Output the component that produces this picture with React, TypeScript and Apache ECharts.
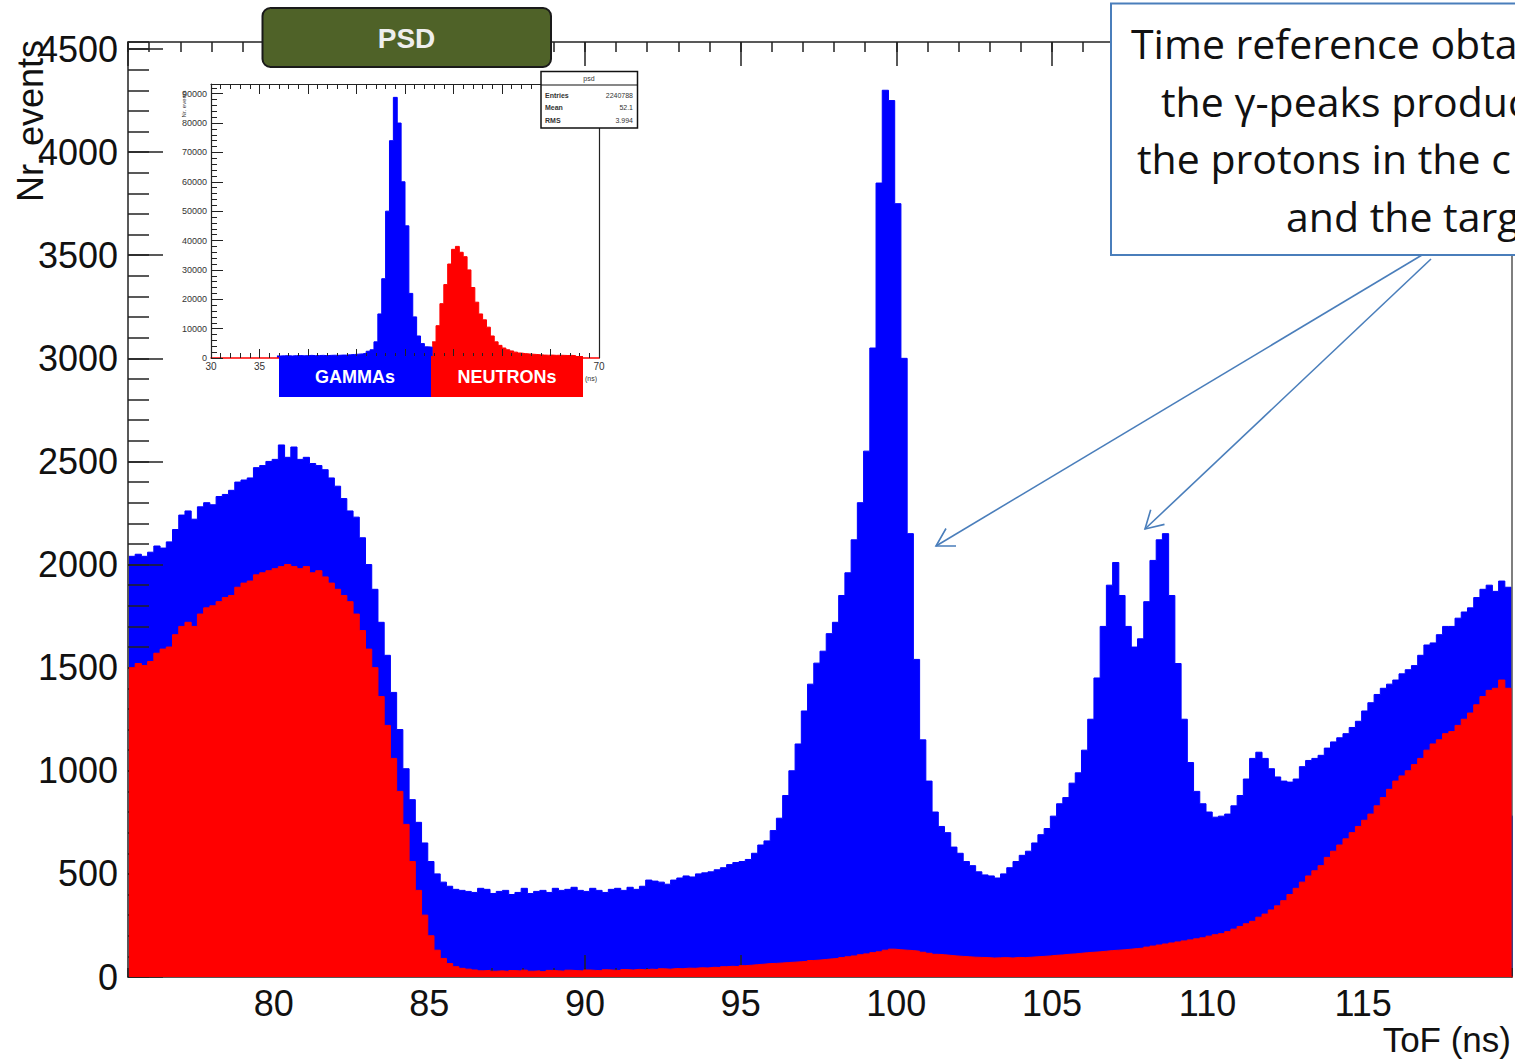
import React, { useEffect, useRef } from "react";
import * as echarts from "echarts";

// ---------- main ToF histogram (bin left edges: first + i * width) ----------
const tofFirstBin = 75.35;
const tofBinWidth = 0.2;
const tofAxisMin = 75.32;
const tofAxisMax = 119.78;
const countsAxisMax = 4534;

// all events (blue)
const totalCounts = [
  2040, 2050, 2040, 2060, 2090, 2080, 2110, 2170, 2240, 2260,
  2220, 2280, 2300, 2290, 2330, 2340, 2360, 2400, 2410, 2420,
  2470, 2480, 2500, 2510, 2580, 2520, 2570, 2510, 2520, 2490,
  2480, 2460, 2420, 2380, 2320, 2260, 2230, 2130, 2000, 1880,
  1720, 1560, 1380, 1200, 1010, 860, 750, 650, 560, 500,
  460, 440, 425, 420, 415, 410, 430, 425, 405, 415,
  420, 400, 410, 430, 405, 415, 420, 410, 430, 420,
  425, 435, 420, 415, 430, 420, 410, 425, 430, 420,
  435, 425, 440, 470, 465, 460, 450, 470, 480, 490,
  485, 500, 505, 510, 520, 530, 545, 555, 560, 570,
  600, 640, 660, 710, 770, 880, 1000, 1130, 1290, 1420,
  1522, 1580, 1665, 1720, 1850, 1960, 2120, 2300, 2550, 3050,
  3850, 4300, 4250, 3750, 3000, 2150, 1540, 1150, 950, 800,
  730, 700, 630, 600, 560, 540, 510, 495, 490, 480,
  500, 530, 560, 590, 610, 650, 690, 720, 780, 840,
  870, 940, 990, 1100, 1250, 1450, 1700, 1900, 2010, 1850,
  1700, 1600, 1640, 1820, 2020, 2120, 2150, 1850, 1520, 1250,
  1040, 900, 840, 800, 775, 780, 790, 830, 880, 960,
  1060, 1090, 1060, 1010, 970, 950, 945, 960, 1020, 1050,
  1060, 1075, 1110, 1140, 1160, 1180, 1210, 1240, 1290, 1330,
  1370, 1400, 1420, 1440, 1470, 1490, 1510, 1560, 1610, 1620,
  1660, 1700, 1700, 1740, 1770, 1790, 1840, 1880, 1900, 1870,
  1920, 1890, 780,
];

// neutrons (red)
const neutronCounts = [
  1500, 1520, 1510, 1530, 1570, 1590, 1600, 1660, 1700, 1720,
  1700, 1760, 1790, 1800, 1820, 1840, 1850, 1890, 1910, 1920,
  1950, 1960, 1970, 1980, 1990, 2000, 1990, 1980, 1990, 1960,
  1970, 1940, 1910, 1880, 1850, 1820, 1760, 1680, 1590, 1500,
  1360, 1220, 1060, 900, 740, 560, 420, 300, 200, 130,
  90, 65, 50, 42, 38, 34, 30, 32, 28, 30,
  27, 31, 29, 33, 28, 30, 26, 32, 30, 28,
  33, 31, 29, 34, 32, 30, 35, 33, 31, 36,
  34, 37, 35, 38, 36, 40, 38, 41, 40, 43,
  42, 45, 44, 47, 46, 50, 52, 50, 55, 57,
  60, 62, 65, 66, 68, 70, 72, 74, 76, 80,
  82, 85, 88, 90, 94, 98, 102, 108, 112, 118,
  122, 130, 135, 132, 130, 128, 125, 120, 115, 110,
  108, 105, 102, 100, 98, 96, 95, 94, 92, 93,
  94, 92, 95, 94, 96, 98, 100, 102, 105, 107,
  110, 112, 115, 118, 120, 122, 125, 128, 130, 132,
  135, 138, 140, 145, 150, 155, 160, 165, 170, 175,
  180, 185, 190, 198, 205, 210, 220, 232, 245, 258,
  270, 290, 305, 325, 345, 370, 400, 430, 460, 490,
  515, 540, 580, 610, 640, 670, 700, 730, 760, 790,
  830, 870, 910, 950, 975, 1000, 1030, 1060, 1100, 1130,
  1150, 1180, 1190, 1220, 1250, 1280, 1320, 1360, 1390, 1400,
  1440, 1400, 0,
];

// ---------- inset PSD histogram ----------
const psdBinWidth = 0.4;
const psdGammaFirstBin = 36.8;
const psdNeutronFirstBin = 52.8;
const psdAxisMin = 30;
const psdAxisMax = 70;
const psdCountsMax = 93300;
const psdVisibleXLabels = [30, 35, 70];
const psdGammaCounts = [
  700, 750, 800, 700, 800, 850, 750, 800, 900, 800,
  850, 900, 800, 900, 950, 900, 1000, 1000, 1100, 1200,
  1300, 1400, 1600, 2300, 2800, 5500, 15000, 27000, 50000, 74000,
  88750, 80000, 60000, 45000, 22000, 14000, 7500, 4900, 3800, 3700,
];
const psdNeutronCounts = [
  5500, 11000, 18500, 25000, 32000, 37000, 38000, 36000, 34500, 30000,
  24000, 19000, 15000, 13000, 10500, 7500, 5500, 4300, 3400, 2800,
  2400, 2000, 1700, 1500, 1400, 1300, 1200, 1100, 1000, 950,
  1000, 900, 950, 900, 850, 900, 800,
];
const psdStats = [
  ["Entries", "2240788"],
  ["Mean", "52.1"],
  ["RMS", "3.994"],
];

const calloutLines = [
  "Time reference obta",
  "the \u03b3-peaks produc",
  "the protons in the c",
  "and the targ",
];

const AXIS_FONT = "'Liberation Sans', Arial, sans-serif";
const INK = "#222";

function toSteps(first: number, width: number, counts: number[]) {
  const pts: number[][] = counts.map((c, i) => [+(first + i * width).toFixed(3), c]);
  pts.push([+(first + counts.length * width).toFixed(3), 0]);
  return pts;
}

function tickAxis(extra: any) {
  return {
    type: "value",
    z: 2,
    splitLine: { show: false },
    axisLine: { show: false, onZero: false },
    axisLabel: { show: false },
    ...extra,
  };
}

const plain = (v: number) => String(Math.round(v));

function buildOption() {
  const tickLine = { color: INK, width: 1.5 };
  const thin = { color: INK, width: 1 };
  const mainX = { gridIndex: 0, min: tofAxisMin, max: tofAxisMax };
  const mainY = { gridIndex: 0, min: 0, max: countsAxisMax };
  const insetX = { gridIndex: 1, min: psdAxisMin, max: psdAxisMax };
  const insetY = { gridIndex: 1, min: 0, max: psdCountsMax };

  const xAxis = [
    tickAxis({
      ...mainX,
      position: "bottom",
      splitNumber: 9,
      minInterval: 5,
      maxInterval: 5,
      axisLine: { show: true, onZero: false, lineStyle: { color: INK, width: 1.5 } },
      axisTick: { show: true, inside: true, length: 22, lineStyle: tickLine },
      axisLabel: {
        show: true,
        margin: 8,
        fontSize: 36,
        fontFamily: AXIS_FONT,
        color: "#111",
        showMinLabel: false,
        showMaxLabel: false,
        formatter: (v: number) =>
          Math.abs(v / 5 - Math.round(v / 5)) < 1e-6 ? plain(v) : "",
      },
    }),
    tickAxis({
      ...mainX,
      position: "bottom",
      splitNumber: 44,
      minInterval: 1,
      maxInterval: 1,
      axisTick: { show: true, inside: true, length: 9, lineStyle: tickLine },
    }),
    tickAxis({
      ...mainX,
      position: "top",
      splitNumber: 9,
      minInterval: 5,
      maxInterval: 5,
      axisLine: { show: true, onZero: false, lineStyle: { color: INK, width: 1.5 } },
      axisTick: { show: true, inside: true, length: 24, lineStyle: tickLine },
    }),
    tickAxis({
      ...mainX,
      position: "top",
      splitNumber: 44,
      minInterval: 1,
      maxInterval: 1,
      axisTick: { show: true, inside: true, length: 10, lineStyle: tickLine },
    }),
    tickAxis({
      ...insetX,
      position: "bottom",
      interval: 5,
      axisLine: { show: true, onZero: false, lineStyle: { color: "#ff0000", width: 1.5 } },
      axisTick: { show: true, inside: true, length: 9, lineStyle: thin },
      minorTick: { show: true, splitNumber: 5, length: 5, lineStyle: thin },
      axisLabel: {
        show: true,
        margin: 3,
        fontSize: 10,
        fontFamily: AXIS_FONT,
        color: "#333",
        formatter: (v: number) => (psdVisibleXLabels.indexOf(Math.round(v)) >= 0 ? plain(v) : ""),
      },
    }),
    tickAxis({
      ...insetX,
      position: "top",
      interval: 5,
      axisLine: { show: true, onZero: false, lineStyle: { color: INK, width: 1.2 } },
      axisTick: { show: true, inside: true, length: 10, lineStyle: thin },
      minorTick: { show: true, splitNumber: 5, length: 5, lineStyle: thin },
    }),
  ];

  const yAxis = [
    tickAxis({
      ...mainY,
      position: "left",
      interval: 500,
      axisLine: { show: true, onZero: false, lineStyle: { color: INK, width: 1.5 } },
      axisTick: { show: true, inside: true, length: 35, lineStyle: tickLine },
      axisLabel: {
        show: true,
        margin: 10,
        fontSize: 36,
        fontFamily: AXIS_FONT,
        color: "#111",
        showMaxLabel: false,
        formatter: plain,
      },
    }),
    tickAxis({
      ...mainY,
      position: "left",
      interval: 100,
      axisTick: { show: true, inside: true, length: 21, lineStyle: tickLine },
    }),
    tickAxis({
      ...mainY,
      position: "right",
      interval: 500,
      axisLine: { show: true, onZero: false, lineStyle: { color: "#555", width: 1.5 } },
      axisTick: { show: false },
    }),
    tickAxis({
      ...insetY,
      position: "left",
      interval: 10000,
      axisLine: { show: true, onZero: false, lineStyle: { color: INK, width: 1.2 } },
      axisTick: { show: true, inside: true, length: 12, lineStyle: thin },
      axisLabel: {
        show: true,
        margin: 4,
        fontSize: 9,
        fontFamily: AXIS_FONT,
        color: "#333",
        showMaxLabel: false,
        formatter: plain,
      },
    }),
    tickAxis({
      ...insetY,
      position: "left",
      interval: 2000,
      axisTick: { show: true, inside: true, length: 6, lineStyle: thin },
    }),
    tickAxis({
      ...insetY,
      position: "right",
      interval: 10000,
      axisLine: { show: true, onZero: false, lineStyle: { color: INK, width: 1.2 } },
      axisTick: { show: false },
    }),
  ];

  const histSeries = (
    data: number[][],
    color: string,
    xi: number,
    yi: number,
    z: number
  ) => ({
    type: "line",
    xAxisIndex: xi,
    yAxisIndex: yi,
    data,
    step: "end",
    symbol: "none",
    showSymbol: false,
    silent: true,
    z,
    lineStyle: { color, width: 1 },
    areaStyle: { color, opacity: 1 },
  });

  const series = [
    histSeries(toSteps(tofFirstBin, tofBinWidth, totalCounts), "#0000ff", 0, 0, 1),
    histSeries(toSteps(tofFirstBin, tofBinWidth, neutronCounts), "#ff0000", 0, 0, 3),
    histSeries(toSteps(psdGammaFirstBin, psdBinWidth, psdGammaCounts), "#0000ff", 4, 3, 1),
    histSeries(toSteps(psdNeutronFirstBin, psdBinWidth, psdNeutronCounts), "#ff0000", 4, 3, 1),
  ];

  const calloutBlue = "#4a7ebb";
  const arrow = (from: number[], tip: number[], w1: number[], w2: number[]) => [
    {
      type: "line",
      z: 20,
      shape: { x1: from[0], y1: from[1], x2: tip[0], y2: tip[1] },
      style: { stroke: calloutBlue, lineWidth: 1.6 },
    },
    {
      type: "polyline",
      z: 20,
      shape: { points: [w1, tip, w2] },
      style: { stroke: calloutBlue, lineWidth: 1.6, fill: null },
    },
  ];

  const statsText = psdStats.flatMap(([k, v], i) => [
    {
      type: "text",
      z: 21,
      x: 545,
      y: 95 + i * 12.5,
      style: { text: k, fontSize: 7, fontWeight: "bold", fontFamily: AXIS_FONT, fill: "#333", textAlign: "left", textVerticalAlign: "middle" },
    },
    {
      type: "text",
      z: 21,
      x: 633,
      y: 95 + i * 12.5,
      style: { text: v, fontSize: 7, fontFamily: AXIS_FONT, fill: "#333", textAlign: "right", textVerticalAlign: "middle" },
    },
  ]);

  const calloutStarts = [1131, 1161, 1137, 1286];
  const calloutText = calloutLines.map((t, i) => ({
    type: "text",
    z: 21,
    x: calloutStarts[i],
    y: 43 + i * 57.7,
    style: {
      text: t,
      fontSize: 41,
      fontFamily: "'Open Sans', 'Noto Sans', sans-serif",
      fill: "#111",
      textAlign: "left",
      textVerticalAlign: "middle",
    },
  }));

  const graphic = [
    // axis titles
    {
      type: "text",
      z: 5,
      x: 30,
      y: 121,
      rotation: Math.PI / 2,
      style: { text: "Nr. events", fontSize: 36, fontFamily: AXIS_FONT, fill: "#111", textAlign: "center", textVerticalAlign: "middle" },
    },
    {
      type: "text",
      z: 5,
      x: 1511,
      y: 1039,
      style: { text: "ToF (ns)", fontSize: 35, fontFamily: AXIS_FONT, fill: "#111", textAlign: "right", textVerticalAlign: "middle" },
    },
    // inset tiny titles
    {
      type: "text",
      z: 5,
      x: 184,
      y: 104,
      rotation: Math.PI / 2,
      style: { text: "Nr. events", fontSize: 6, fontFamily: AXIS_FONT, fill: "#333", textAlign: "center", textVerticalAlign: "middle" },
    },
    {
      type: "text",
      z: 5,
      x: 597,
      y: 378,
      style: { text: "(ns)", fontSize: 7, fontFamily: AXIS_FONT, fill: "#333", textAlign: "right", textVerticalAlign: "middle" },
    },
    // inset stats box
    {
      type: "rect",
      z: 20,
      shape: { x: 541, y: 71.5, width: 96.5, height: 56.5 },
      style: { fill: "#fff", stroke: "#111", lineWidth: 1.5 },
    },
    {
      type: "line",
      z: 21,
      shape: { x1: 541, y1: 85, x2: 637.5, y2: 85 },
      style: { stroke: "#111", lineWidth: 1.2 },
    },
    {
      type: "text",
      z: 21,
      x: 589,
      y: 78.5,
      style: { text: "psd", fontSize: 7, fontFamily: AXIS_FONT, fill: "#333", textAlign: "center", textVerticalAlign: "middle" },
    },
    ...statsText,
    // PSD banner
    {
      type: "rect",
      z: 20,
      shape: { x: 262.5, y: 8, width: 288.5, height: 59, r: 8 },
      style: { fill: "#4f6228", stroke: "#1a1a1a", lineWidth: 2 },
    },
    {
      type: "text",
      z: 21,
      x: 406.5,
      y: 38,
      style: { text: "PSD", fontSize: 28, fontWeight: "bold", fontFamily: AXIS_FONT, fill: "#eeeeee", textAlign: "center", textVerticalAlign: "middle" },
    },
    // GAMMAs / NEUTRONs labels
    {
      type: "rect",
      z: 20,
      shape: { x: 279, y: 356, width: 152, height: 41 },
      style: { fill: "#0000ff" },
    },
    {
      type: "text",
      z: 21,
      x: 355,
      y: 377,
      style: { text: "GAMMAs", fontSize: 18, fontWeight: "bold", fontFamily: AXIS_FONT, fill: "#ffffff", textAlign: "center", textVerticalAlign: "middle" },
    },
    {
      type: "rect",
      z: 20,
      shape: { x: 431, y: 356, width: 152, height: 41 },
      style: { fill: "#ff0000" },
    },
    {
      type: "text",
      z: 21,
      x: 507,
      y: 377,
      style: { text: "NEUTRONs", fontSize: 18, fontWeight: "bold", fontFamily: AXIS_FONT, fill: "#ffffff", textAlign: "center", textVerticalAlign: "middle" },
    },
    // callout
    {
      type: "rect",
      z: 20,
      shape: { x: 1111, y: 3.5, width: 440, height: 251.5 },
      style: { fill: "#ffffff", stroke: calloutBlue, lineWidth: 2 },
    },
    ...calloutText,
    ...arrow([1422, 255], [936, 546], [956, 546], [946, 528.5]),
    ...arrow([1431, 259], [1145, 529], [1164.5, 524.4], [1150.7, 509.8]),
  ];

  return {
    animation: false,
    backgroundColor: "#ffffff",
    grid: [
      { left: 128, top: 42, right: 3, bottom: 84, containLabel: false },
      { left: 211, top: 84, width: 388, height: 274, containLabel: false },
    ],
    xAxis,
    yAxis,
    series,
    graphic,
  };
}

export default function App() {
  const ref = useRef<HTMLDivElement | null>(null);
  useEffect(() => {
    if (!ref.current) return;
    const chart = echarts.init(ref.current, undefined, { renderer: "svg" });
    chart.setOption(buildOption() as any);
    return () => chart.dispose();
  }, []);
  return (
    <div
      ref={ref}
      style={{ position: "absolute", left: 0, top: 0, width: 1515, height: 1061, background: "#fff" }}
    />
  );
}
